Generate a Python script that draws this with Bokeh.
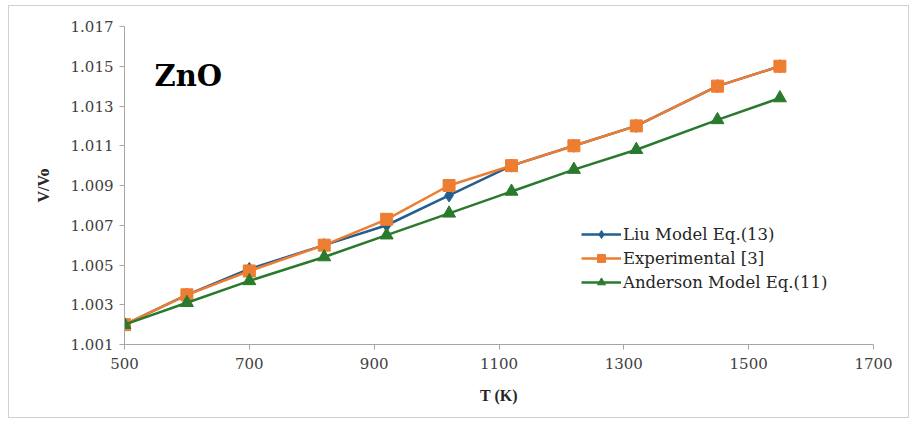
from bokeh.plotting import figure
from bokeh.models import FixedTicker, Legend, LegendItem, Label, NumeralTickFormatter, Range1d
from bokeh.embed import file_html
from bokeh.resources import INLINE

T = [500, 600, 700, 820, 920, 1020, 1120, 1220, 1320, 1450, 1550]
liu = [1.0020, 1.0035, 1.0048, 1.0060, 1.0070, 1.0085, 1.0100, 1.0110, 1.0120, 1.0140, 1.0150]
experimental = [1.0020, 1.0035, 1.0047, 1.0060, 1.0073, 1.0090, 1.0100, 1.0110, 1.0120, 1.0140, 1.0150]
anderson = [1.0020, 1.0031, 1.0042, 1.0054, 1.0065, 1.0076, 1.0087, 1.0098, 1.0108, 1.0123, 1.0134]

x_ticks = [500, 700, 900, 1100, 1300, 1500, 1700]
y_ticks = [1.001, 1.003, 1.005, 1.007, 1.009, 1.011, 1.013, 1.015, 1.017]

c_liu = "#245E8F"
c_exp = "#ED7D31"
c_and = "#2A7A2E"

p = figure(width=901, height=413, output_backend="svg", toolbar_location=None,
           x_range=Range1d(500, 1700), y_range=Range1d(1.001, 1.017),
           min_border_left=115, min_border_right=37, min_border_top=20, min_border_bottom=75)
p.styles = {"border": "1px solid #d0d0d0", "margin-left": "8px", "margin-top": "5px"}
p.outline_line_color = None
p.xgrid.grid_line_color = None
p.ygrid.grid_line_color = None

for ax in (p.xaxis[0], p.yaxis[0]):
    ax.axis_line_color = "#a6a6a6"
    ax.major_tick_line_color = "#a6a6a6"
    ax.minor_tick_line_color = None
    ax.major_tick_in = 0
    ax.major_tick_out = 5
    ax.major_label_text_font = "DejaVu Serif"
    ax.major_label_text_font_size = "15px"
    ax.major_label_text_color = "#404040"
    ax.axis_label_text_font_style = "bold"
    ax.axis_label_text_font_size = "16px"
    ax.axis_label_text_color = "#262626"
    ax.axis_label_text_font = "Liberation Serif"

p.xaxis.ticker = FixedTicker(ticks=x_ticks)
p.yaxis.ticker = FixedTicker(ticks=y_ticks)
p.yaxis.formatter = NumeralTickFormatter(format="0.000")
p.xaxis.axis_label = "T (K)"
p.yaxis.axis_label = "V/Vo"
p.xaxis.major_label_standoff = 8
p.yaxis.major_label_standoff = 6
p.xaxis.axis_label_standoff = 15
p.yaxis.axis_label_standoff = 16

l1 = p.line(T, liu, line_color=c_liu, line_width=2.5)
m1 = p.scatter(T, liu, marker="diamond", size=13, fill_color=c_liu, line_color=c_liu)
l2 = p.line(T, experimental, line_color=c_exp, line_width=2.5)
m2 = p.scatter(T, experimental, marker="square", size=12, fill_color=c_exp, line_color=c_exp)
l3 = p.line(T, anderson, line_color=c_and, line_width=2.5)
m3 = p.scatter(T, anderson, marker="triangle", size=13, fill_color=c_and, line_color=c_and)

legend = Legend(items=[
    LegendItem(label="Liu Model Eq.(13)", renderers=[l1, m1]),
    LegendItem(label="Experimental [3]", renderers=[l2, m2]),
    LegendItem(label="Anderson Model Eq.(11)", renderers=[l3, m3]),
], location=(457, 52))
legend.background_fill_alpha = 0
legend.border_line_color = None
legend.label_text_font = "DejaVu Serif"
legend.label_text_font_size = "16.5px"
legend.label_text_color = "#262626"
legend.glyph_width = 40
legend.spacing = 4
legend.label_standoff = 2
p.add_layout(legend, "center")

p.add_layout(Label(x=548, y=1.01365, text="ZnO", text_font="DejaVu Serif",
                   text_font_style="bold", text_font_size="29px", text_color="#000000"))

open("out.html", "w").write(file_html(p, INLINE))
